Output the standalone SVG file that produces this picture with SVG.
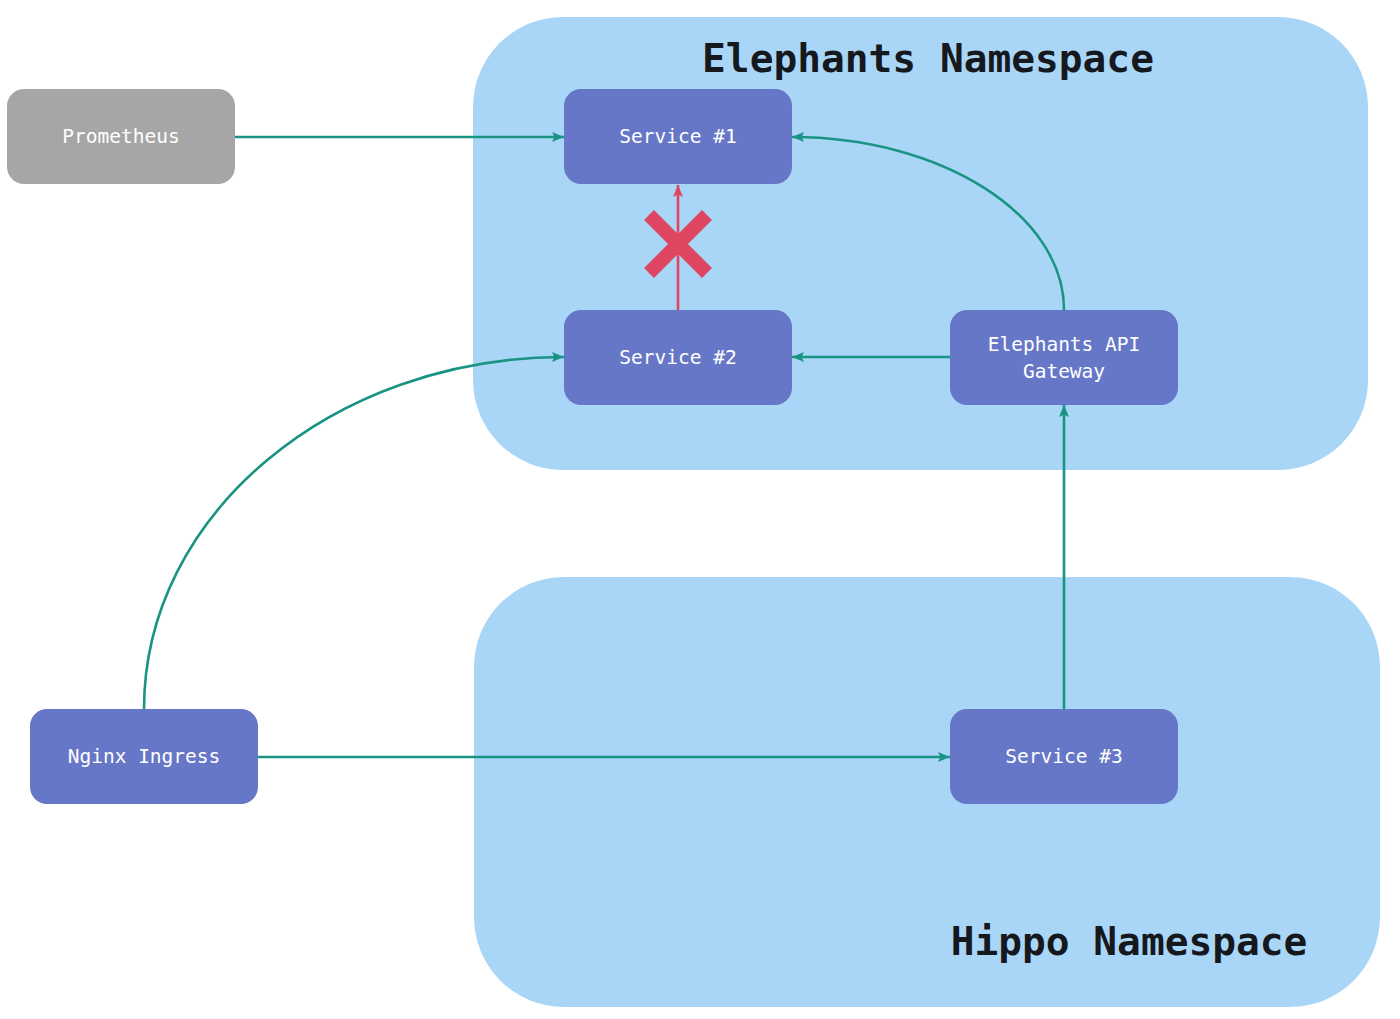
<svg xmlns="http://www.w3.org/2000/svg" width="1400" height="1019" viewBox="0 0 1400 1019">
<style>
.ns{fill:#a9d6f7}
.node{fill:#6777c7}
.gray{fill:#a6a6a6}
.lbl{font-family:"DejaVu Sans Mono","Liberation Mono",monospace;font-size:19.5px;fill:#ffffff;text-anchor:middle;dominant-baseline:central}
.title{font-family:"DejaVu Sans Mono","Liberation Mono",monospace;font-size:39.5px;font-weight:bold;fill:#15181c}
.edge{fill:none;stroke:#1a9482;stroke-width:2.6}
.bad{fill:none;stroke:#dd4560;stroke-width:2.6}
</style>
<defs>
<marker id="ah" markerWidth="12" markerHeight="12" viewBox="0 0 10 10" refX="10" refY="5" orient="auto" markerUnits="userSpaceOnUse">
<path d="M0,0.8 L10,5 L0,9.2 L2,5 Z" fill="#1a9482"/>
</marker>
<marker id="ahr" markerWidth="12" markerHeight="12" viewBox="0 0 10 10" refX="10" refY="5" orient="auto" markerUnits="userSpaceOnUse">
<path d="M0,0.8 L10,5 L0,9.2 L2,5 Z" fill="#dd4560"/>
</marker>
</defs>
<rect width="1400" height="1019" fill="#ffffff"/>
<g id="elephants-namespace">
<rect class="ns" x="473" y="17" width="895" height="453" rx="90"/>
<text class="title" x="928" y="72" text-anchor="middle">Elephants Namespace</text>
</g>
<g id="hippo-namespace">
<rect class="ns" x="474" y="577" width="906" height="430" rx="90"/>
<text class="title" x="1129" y="955" text-anchor="middle">Hippo Namespace</text>
</g>
<g id="connectors">
<path class="edge" d="M235 137 L564 137" marker-end="url(#ah)"/>
<path class="edge" d="M1064 310 C1064 215 942 137 792 137" marker-end="url(#ah)"/>
<path class="edge" d="M950 357 L792 357" marker-end="url(#ah)"/>
<path class="edge" d="M144 709 C144 515 332 357 564 357" marker-end="url(#ah)"/>
<path class="edge" d="M258 757 L950 757" marker-end="url(#ah)"/>
<path class="edge" d="M1064 709 L1064 405" marker-end="url(#ah)"/>
<path class="bad" d="M678 310 L678 185" marker-end="url(#ahr)"/>
<path d="M649 215 L707 273 M707 215 L649 273" stroke="#dd4560" stroke-width="14" fill="none"/>
</g>
<g id="prometheus">
<rect class="gray" x="7" y="89" width="228" height="95" rx="17"/>
<text class="lbl" x="121" y="136">Prometheus</text>
</g>
<g id="service1">
<rect class="node" x="564" y="89" width="228" height="95" rx="17"/>
<text class="lbl" x="678" y="136">Service #1</text>
</g>
<g id="service2">
<rect class="node" x="564" y="310" width="228" height="95" rx="17"/>
<text class="lbl" x="678" y="357">Service #2</text>
</g>
<g id="gateway">
<rect class="node" x="950" y="310" width="228" height="95" rx="17"/>
<text class="lbl" x="1064" y="344">Elephants API</text>
<text class="lbl" x="1064" y="371">Gateway</text>
</g>
<g id="nginx">
<rect class="node" x="30" y="709" width="228" height="95" rx="17"/>
<text class="lbl" x="144" y="756">Nginx Ingress</text>
</g>
<g id="service3">
<rect class="node" x="950" y="709" width="228" height="95" rx="17"/>
<text class="lbl" x="1064" y="756">Service #3</text>
</g>
</svg>
